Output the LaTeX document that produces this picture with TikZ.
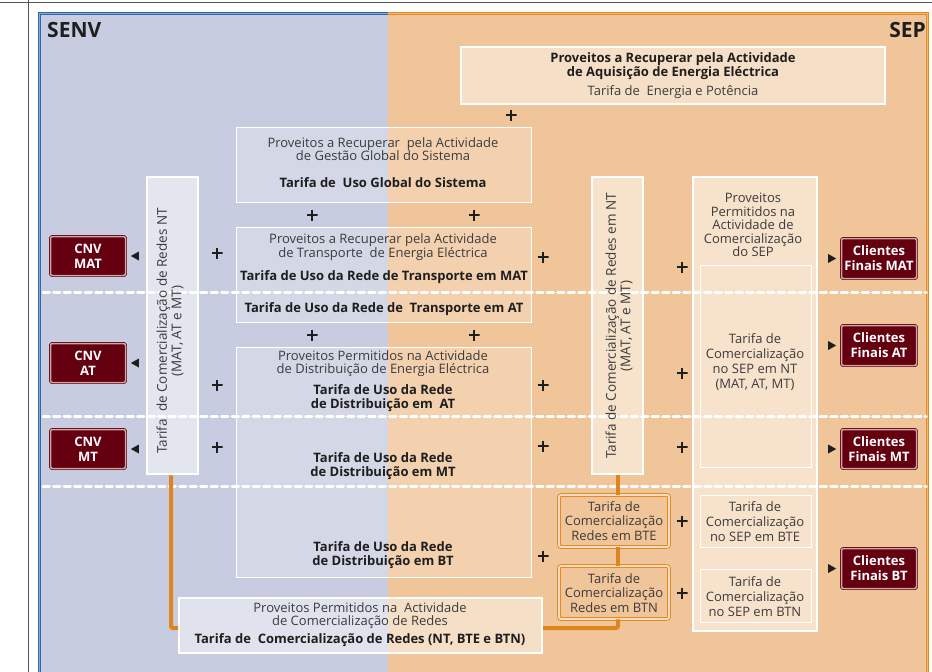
\documentclass[tikz,border=0pt]{standalone}
\usepackage{fontspec}
\setmainfont{Open Sans}
\usetikzlibrary{fit,calc}
\definecolor{bluebg}{HTML}{C7CCE0}
\definecolor{orangebg}{HTML}{F0C599}
\definecolor{bluebd}{HTML}{2E67A3}
\definecolor{bluebdl}{HTML}{8FAAD0}
\definecolor{orangebd}{HTML}{E48A22}
\definecolor{orangebdl}{HTML}{F4B878}
\definecolor{cnvred}{HTML}{640010}
\definecolor{cnvpink}{HTML}{D6A2A2}
\definecolor{oline}{HTML}{E0841C}
\definecolor{txt}{HTML}{3C3C3C}
\definecolor{txtb}{HTML}{1E1E1E}
\definecolor{grayline}{HTML}{555555}
\tikzset{
  bxl/.style={draw=white, line width=1pt, fill=white, fill opacity=0.22, inner sep=0pt},
  bxm/.style={draw=white, line width=2pt, fill=white, fill opacity=0.45, inner sep=0pt},
  bxh/.style={draw=white, line width=2.6pt, fill=white, fill opacity=0.5, inner sep=0pt},
  bxi/.style={draw=white, line width=1pt, inner sep=0pt},
  obx/.style={draw=orangebd, double=orangebg!60!white, double distance=1.8pt, line width=0.9pt, rounded corners=2pt, inner sep=0pt},
  redbx/.style={fill=cnvred, draw=cnvred!85!black, double=cnvpink, double distance=1.5pt, line width=0.7pt, rounded corners=2pt, inner sep=0pt},
  t/.style={text=txt, align=center, inner sep=0pt, font=\fontsize{13}{13}\selectfont},
  tb/.style={text=txtb, align=center, inner sep=0pt, font=\bfseries\fontsize{13}{14}\selectfont},
  tw/.style={text=white, align=center, inner sep=0pt, font=\bfseries\fontsize{13}{15}\selectfont},
  plus/.style={inner sep=0pt, minimum size=11pt, path picture={
      \draw[txtb, line width=2.6pt] (path picture bounding box.north) -- (path picture bounding box.south)
        (path picture bounding box.west) -- (path picture bounding box.east);}},
  head/.style={text=txtb, inner sep=0pt, font=\bfseries\fontsize{21}{21}\selectfont},
  dashline/.style={draw=white, line width=3pt, line cap=round, dash pattern=on 6.5pt off 4pt},
  conn/.style={draw=oline, line width=4pt, rounded corners=2pt},
  tri/.style={fill=txtb}
}
\begin{document}
\begin{tikzpicture}[x=1pt, y=-1pt]
\useasboundingbox (0,0) rectangle (932,672);
\clip (0,0) rectangle (932,672);
\fill[white] (0,0) rectangle (932,672);
% page lines
\draw[grayline, line width=1.3pt] (0,2.5) -- (932,2.5);
\draw[grayline, line width=1pt] (28,0) -- (28,672);
% backgrounds
\fill[bluebg] (38,12) rectangle (388,690);
\fill[orangebg] (388,12) rectangle (929,690);
\draw[bluebd, double=bluebdl, double distance=1pt, line width=0.8pt] (388,13.5) -- (39.5,13.5) -- (39.5,690);
\draw[orangebd, double=orangebdl, double distance=1pt, line width=0.8pt] (388,13.5) -- (927.5,13.5) -- (927.5,690);
\node[head, anchor=west] (senv) at (47,30) {SENV};
\node[head, anchor=east] (sep) at (926,30) {SEP};

% boxes
\node[bxm, fit={(461,47)(885,104)}] (aq) {};
\node[bxl, fit={(236,127)(531,202)}] (gg) {};
\node[bxl, fit={(236,227)(531,322)}] (tr) {};
\node[bxl, fit={(236,347)(531,577)}] (di) {};
\node[bxh, fit={(147,177)(198,474)}] (lbar) {};
\node[bxh, fit={(592,177)(643,474)}] (rbar) {};
\node[bxh, fit={(693,177)(817,631)}] (sepbox) {};
\node[bxi, fit={(700,265)(811,467)}] (snt) {};
\node[bxi, fit={(700,495)(811,547)}] (sbte) {};
\node[bxi, fit={(700,569)(811,622)}] (sbtn) {};
\node[obx, fit={(559,495)(669,547)}] (obte) {};
\node[obx, fit={(559,566)(669,619)}] (obtn) {};
\node[bxm, fit={(179,598)(542,653)}] (cr) {};

% dashed separators
\draw[dashline] (43,292) -- (926,292);
\draw[dashline] (43,416.5) -- (926,416.5);
\draw[dashline] (43,486) -- (926,486);

% orange connectors
\draw[conn] ($(lbar.south)+(-1.5,0)$) |- ($(cr.west)+(0,2.5)$);
\draw[conn] ($(rbar.south)+(0.5,0)$) -- ($(rbar.south |- obte.north)+(0.5,0)$);
\draw[conn] ($(rbar.south |- obte.south)+(0.5,0)$) -- ($(rbar.south |- obtn.north)+(0.5,0)$);
\draw[conn] ($(rbar.south |- obtn.south)+(0.5,0)$) |- ($(cr.east)+(0,2.5)$);

% red boxes
\node[redbx, fit={(50.5,236.5)(125.5,275.5)}] (cnvmat) {};
\node[redbx, fit={(50.5,343.5)(125.5,382.5)}] (cnvat) {};
\node[redbx, fit={(50.5,429.5)(125.5,468.5)}] (cnvmt) {};
\node[redbx, fit={(841.5,238.5)(916.5,278.5)}] (cfmat) {};
\node[redbx, fit={(841.5,325.5)(916.5,365.5)}] (cfat) {};
\node[redbx, fit={(841.5,429.5)(916.5,468.5)}] (cfmt) {};
\node[redbx, fit={(841.5,548.5)(916.5,588.5)}] (cfbt) {};
\node[tw] (tcnvmat) at (cnvmat) {CNV\\MAT};
\node[tw] (tcnvat) at (cnvat) {CNV\\AT};
\node[tw] (tcnvmt) at (cnvmt) {CNV\\MT};
\node[tw] (tcfmat) at (cfmat) {Clientes\\Finais MAT};
\node[tw] (tcfat) at (cfat) {Clientes\\Finais AT};
\node[tw] (tcfmt) at (cfmt) {Clientes\\Finais MT};
\node[tw] (tcfbt) at (cfbt) {Clientes\\Finais BT};
% triangles
\foreach \b in {cnvmat,cnvat,cnvmt}{
  \fill[tri] ($(\b.east)+(5,0)$) -- ++(8,-4.5) -- ++(0,9) -- cycle;
}
\foreach \b in {cfmat,cfat,cfmt,cfbt}{
  \fill[tri] ($(\b.west)+(-5,0)$) -- ++(-8,-4.5) -- ++(0,9) -- cycle;
}

% texts
\node[tb] (aq1) at (673,66) {Proveitos a Recuperar pela Actividade\\de Aquisição de Energia Eléctrica};
\node[t] (aq2) at (673,92) {Tarifa de\ \ Energia e Potência};
\node[t] (gg1) at (383,149) {Proveitos a Recuperar\ \ pela Actividade\\de Gestão Global do Sistema};
\node[tb] (gg2) at (383,183) {Tarifa de\ \ Uso Global do Sistema};
\node[t] (tr1) at (383,247) {Proveitos a Recuperar pela Actividade\\de Transporte\ \ de Energia Eléctrica};
\node[tb] (tr2) at (384,277) {Tarifa de Uso da Rede de Transporte em MAT};
\node[tb] (tr3) at (384,309) {Tarifa de Uso da Rede de\ \ Transporte em AT};
\node[t] (di1) at (383,364) {Proveitos Permitidos na Actividade\\de Distribuição de Energia Eléctrica};
\node[tb] (di2) at (383,398) {Tarifa de Uso da Rede\\de Distribuição em\ \ AT};
\node[tb] (di3) at (383,466) {Tarifa de Uso da Rede\\de Distribuição em MT};
\node[tb] (di4) at (383,555) {Tarifa de Uso da Rede\\de Distribuição em BT};
\node[t, rotate=90, font=\fontsize{13.5}{14.5}\selectfont] (lbt) at (170,331) {Tarifa\ \ de Comercialização de Redes NT\\(MAT, AT e MT)};
\node[t, rotate=90, font=\fontsize{13.5}{14.5}\selectfont] (rbt) at (619,326) {Tarifa de Comercialização de Redes em NT\\(MAT, AT e MT)};
\node[t, font=\fontsize{13}{13.5}\selectfont] (sept) at (753,225) {Proveitos\\Permitidos na\\Actividade de\\Comercialização\\do SEP};
\node[t, font=\fontsize{13}{15}\selectfont] (sntt) at (755,362) {Tarifa de\\Comercialização\\no SEP em NT\\(MAT, AT, MT)};
\node[t, font=\fontsize{13}{15}\selectfont] (sbtet) at (755,522) {Tarifa de\\Comercialização\\no SEP em BTE};
\node[t, font=\fontsize{13}{15}\selectfont] (sbtnt) at (755,597) {Tarifa de\\Comercialização\\no SEP em BTN};
\node[t, font=\fontsize{13}{14.5}\selectfont] (obtet) at (614,521) {Tarifa de\\Comercialização\\Redes em BTE};
\node[t, font=\fontsize{13}{14.5}\selectfont] (obtnt) at (614,593) {Tarifa de\\Comercialização\\Redes em BTN};
\node[t] (cr1) at (360,616) {Proveitos Permitidos na\ \ Actividade\\de Comercialização de Redes};
\node[tb] (cr2) at (360,640) {Tarifa de\ \ Comercialização de Redes (NT, BTE e BTN)};

% plus signs
\foreach \px/\py [count=\i] in {511/115,312/215,474/215,312/335,474/335,217/253,217/385,217/447,543/257,543/385,543/446,543/556,682/267,682/373,682/447,682/521,682/593}{
  \node[plus] (p\i) at (\px,\py) {};
}
\end{tikzpicture}
\end{document}
